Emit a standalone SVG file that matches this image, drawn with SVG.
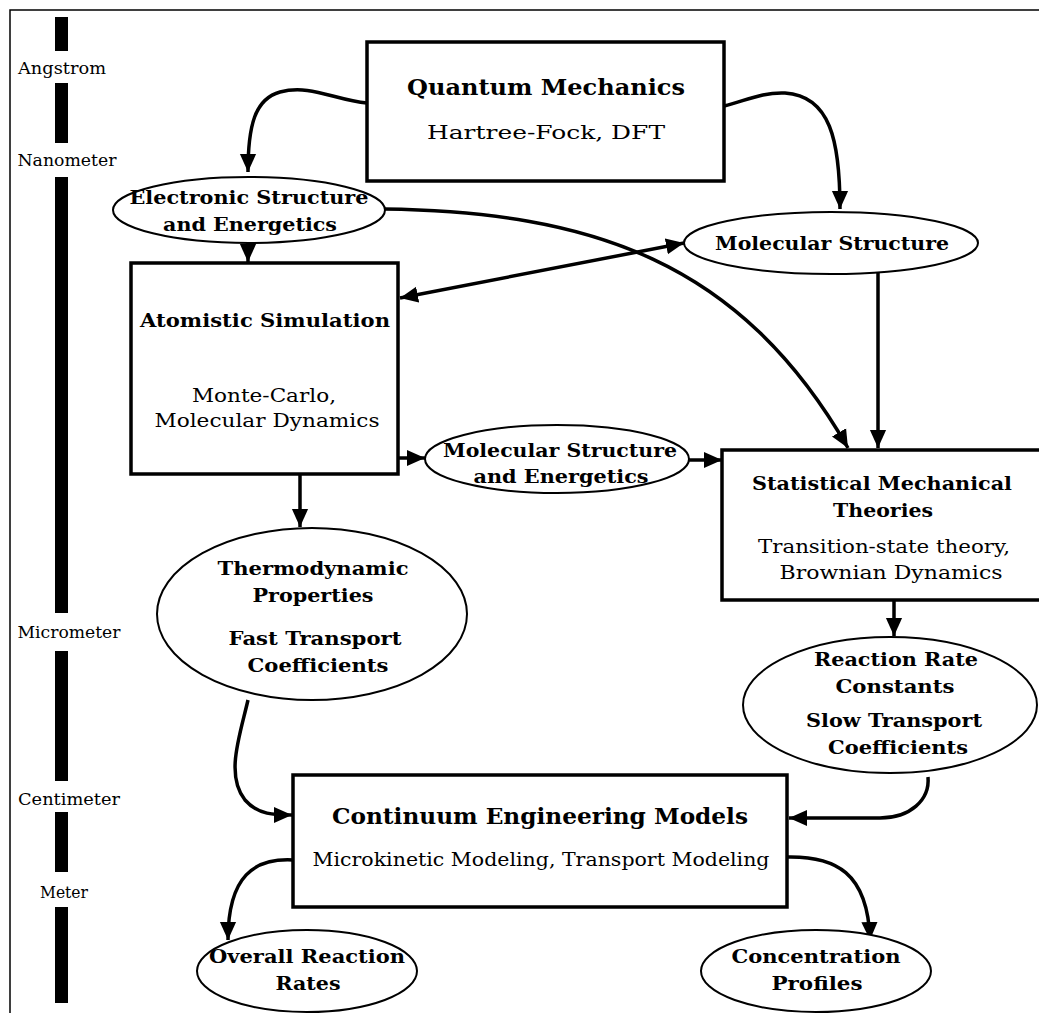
<svg xmlns="http://www.w3.org/2000/svg" width="1039" height="1013" viewBox="0 0 1039 1013">
  <defs>
    <marker id="head" viewBox="0 0 10 10" refX="10" refY="5" markerWidth="18" markerHeight="18" markerUnits="userSpaceOnUse" orient="auto-start-reverse">
      <path d="M0,0.5 L10,5 L0,9.5 z" fill="#000"/>
    </marker>
    <style>
      .box { fill: #fff; stroke: #000; stroke-width: 3.5; }
      .oval { fill: #fff; stroke: #000; stroke-width: 2; }
      .link { fill: none; stroke: #000; stroke-width: 3.5; }
      .bar { fill: #000; }
      text { fill: #000; text-anchor: middle; }
      .b { font-family: "DejaVu Serif", "Liberation Serif", serif; font-weight: bold; font-size: 18px; }
      .t { font-family: "DejaVu Serif", "Liberation Serif", serif; font-weight: bold; font-size: 23px; }
      .r { font-family: "DejaVu Serif", "Liberation Serif", serif; font-size: 19px; }
      .s { font-family: "DejaVu Serif", "Liberation Serif", serif; font-size: 17px; }
    </style>
  </defs>

  <rect width="1039" height="1013" fill="#fff"/>

  <!-- frame -->
  <path d="M10,1013 V10 H1039" fill="none" stroke="#000" stroke-width="1.5"/>

  <!-- length-scale bar -->
  <g id="scale">
    <rect class="bar" x="55" y="17" width="13" height="34"/>
    <rect class="bar" x="55" y="83" width="13" height="60"/>
    <rect class="bar" x="55" y="177" width="13" height="436"/>
    <rect class="bar" x="55" y="651" width="13" height="130"/>
    <rect class="bar" x="55" y="812" width="13" height="60"/>
    <rect class="bar" x="55" y="907" width="13" height="96"/>
    <text class="s" x="62" y="74" textLength="88" lengthAdjust="spacingAndGlyphs">Angstrom</text>
    <text class="s" x="67" y="166" textLength="99" lengthAdjust="spacingAndGlyphs">Nanometer</text>
    <text class="s" x="69" y="638" textLength="103" lengthAdjust="spacingAndGlyphs">Micrometer</text>
    <text class="s" x="69" y="805" textLength="102" lengthAdjust="spacingAndGlyphs">Centimeter</text>
    <text class="s" x="64" y="898" textLength="48" lengthAdjust="spacingAndGlyphs">Meter</text>
  </g>

  <!-- connectors -->
  <g id="connectors">
    <path class="link" d="M367,103 C335,100 310,84 280,92 C255,99 248,125 248,172" marker-end="url(#head)"/>
    <path class="link" d="M724,106 C745,101 762,92 785,93 C830,96 840,140 840,209" marker-end="url(#head)"/>
    <path class="link" d="M248,242 V262" marker-end="url(#head)"/>
    <path class="link" d="M400,298 L684,243" marker-start="url(#head)" marker-end="url(#head)"/>
    <path class="link" d="M384,209 C590,212 740,260 848,448" marker-end="url(#head)"/>
    <path class="link" d="M878,272 V448" marker-end="url(#head)"/>
    <path class="link" d="M398,458 H425" marker-end="url(#head)"/>
    <path class="link" d="M689,460 H722" marker-end="url(#head)"/>
    <path class="link" d="M300,474 V527" marker-end="url(#head)"/>
    <path class="link" d="M894,600 V636" marker-end="url(#head)"/>
    <path class="link" d="M248,700 C240,735 225,775 245,800 C258,815 275,815 292,815" marker-end="url(#head)"/>
    <path class="link" d="M928,777 C930,800 910,818 880,818 L789,818" marker-end="url(#head)"/>
    <path class="link" d="M293,860 C255,858 228,875 228,940" marker-end="url(#head)"/>
    <path class="link" d="M787,857 C835,856 868,872 870,940" marker-end="url(#head)"/>
  </g>

  <g id="quantum-mechanics">
    <rect class="box" x="367" y="42" width="357" height="139"/>
    <text class="t" x="546" y="95" textLength="278" lengthAdjust="spacingAndGlyphs">Quantum Mechanics</text>
    <text class="r" x="546" y="139" textLength="238" lengthAdjust="spacingAndGlyphs">Hartree-Fock, DFT</text>
  </g>

  <g id="electronic-structure">
    <ellipse class="oval" cx="249" cy="210" rx="136" ry="33"/>
    <text class="b" x="249" y="204" textLength="239" lengthAdjust="spacingAndGlyphs">Electronic Structure</text>
    <text class="b" x="250" y="231" textLength="174" lengthAdjust="spacingAndGlyphs">and Energetics</text>
  </g>

  <g id="molecular-structure">
    <ellipse class="oval" cx="831" cy="243" rx="147" ry="31"/>
    <text class="b" x="832" y="250" textLength="234" lengthAdjust="spacingAndGlyphs">Molecular Structure</text>
  </g>

  <g id="atomistic-simulation">
    <rect class="box" x="131" y="263" width="267" height="211"/>
    <text class="b" x="265" y="327" textLength="250" lengthAdjust="spacingAndGlyphs">Atomistic Simulation</text>
    <text class="r" x="264" y="402" textLength="144" lengthAdjust="spacingAndGlyphs">Monte-Carlo,</text>
    <text class="r" x="267" y="427" textLength="225" lengthAdjust="spacingAndGlyphs">Molecular Dynamics</text>
  </g>

  <g id="molecular-structure-energetics">
    <ellipse class="oval" cx="557" cy="459" rx="132" ry="34"/>
    <text class="b" x="560" y="457" textLength="234" lengthAdjust="spacingAndGlyphs">Molecular Structure</text>
    <text class="b" x="561" y="483" textLength="175" lengthAdjust="spacingAndGlyphs">and Energetics</text>
  </g>

  <g id="statistical-mechanical-theories">
    <rect class="box" x="722" y="450" width="330" height="150"/>
    <text class="b" x="882" y="490" textLength="260" lengthAdjust="spacingAndGlyphs">Statistical Mechanical</text>
    <text class="b" x="883" y="517" textLength="100" lengthAdjust="spacingAndGlyphs">Theories</text>
    <text class="r" x="884" y="553" textLength="252" lengthAdjust="spacingAndGlyphs">Transition-state theory,</text>
    <text class="r" x="891" y="579" textLength="223" lengthAdjust="spacingAndGlyphs">Brownian Dynamics</text>
  </g>

  <g id="thermodynamic-properties">
    <ellipse class="oval" cx="312" cy="614" rx="155" ry="86"/>
    <text class="b" x="313" y="575" textLength="191" lengthAdjust="spacingAndGlyphs">Thermodynamic</text>
    <text class="b" x="313" y="602" textLength="121" lengthAdjust="spacingAndGlyphs">Properties</text>
    <text class="b" x="315" y="645" textLength="173" lengthAdjust="spacingAndGlyphs">Fast Transport</text>
    <text class="b" x="318" y="672" textLength="141" lengthAdjust="spacingAndGlyphs">Coefficients</text>
  </g>

  <g id="reaction-rate-constants">
    <ellipse class="oval" cx="890" cy="705" rx="147" ry="68"/>
    <text class="b" x="896" y="666" textLength="164" lengthAdjust="spacingAndGlyphs">Reaction Rate</text>
    <text class="b" x="895" y="693" textLength="119" lengthAdjust="spacingAndGlyphs">Constants</text>
    <text class="b" x="894" y="727" textLength="176" lengthAdjust="spacingAndGlyphs">Slow Transport</text>
    <text class="b" x="898" y="754" textLength="140" lengthAdjust="spacingAndGlyphs">Coefficients</text>
  </g>

  <g id="continuum-engineering-models">
    <rect class="box" x="293" y="775" width="494" height="132"/>
    <text class="t" x="540" y="824" textLength="416" lengthAdjust="spacingAndGlyphs">Continuum Engineering Models</text>
    <text class="r" x="541" y="866" textLength="457" lengthAdjust="spacingAndGlyphs">Microkinetic Modeling, Transport Modeling</text>
  </g>

  <g id="overall-reaction-rates">
    <ellipse class="oval" cx="307" cy="971" rx="110" ry="41"/>
    <text class="b" x="307" y="963" textLength="196" lengthAdjust="spacingAndGlyphs">Overall Reaction</text>
    <text class="b" x="308" y="990" textLength="65" lengthAdjust="spacingAndGlyphs">Rates</text>
  </g>

  <g id="concentration-profiles">
    <ellipse class="oval" cx="816" cy="971" rx="115" ry="41"/>
    <text class="b" x="816" y="963" textLength="169" lengthAdjust="spacingAndGlyphs">Concentration</text>
    <text class="b" x="817" y="990" textLength="91" lengthAdjust="spacingAndGlyphs">Profiles</text>
  </g>
</svg>
